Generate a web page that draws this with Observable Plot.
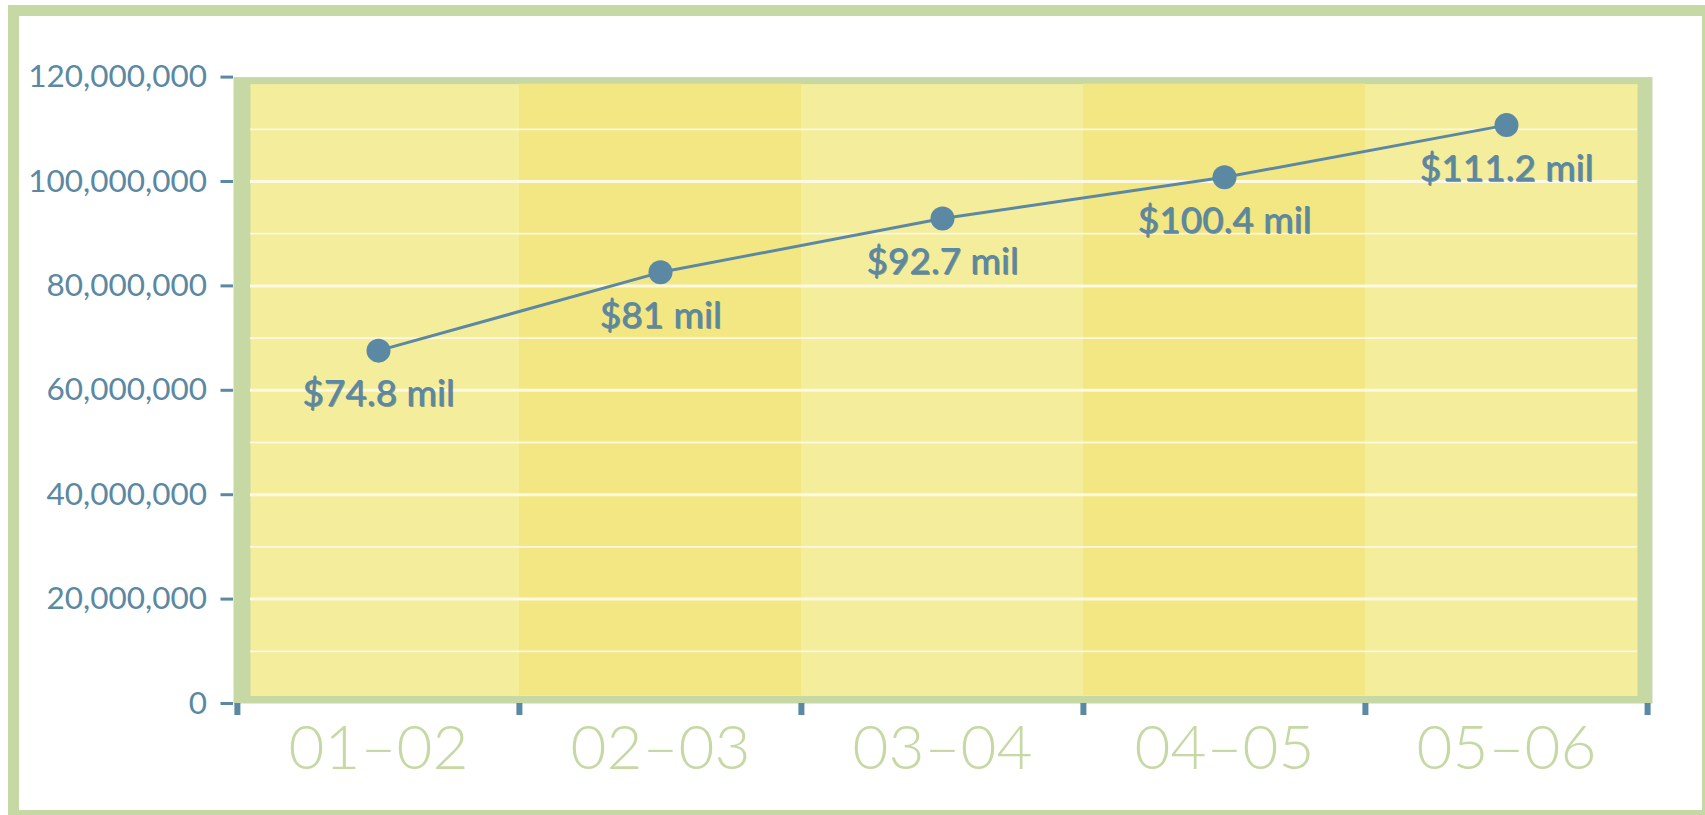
<!DOCTYPE html>
<html>
<head>
<meta charset="utf-8">
<script src="https://cdn.jsdelivr.net/npm/d3@7"></script>
<script src="https://cdn.jsdelivr.net/npm/@observablehq/plot@0.6"></script>
<style>
  html, body { margin: 0; padding: 0; background: #ffffff; overflow: hidden; }
  #wrap { position: relative; width: 1705px; height: 815px; }
  #outer { position: absolute; left: 8px; top: 5px; width: 1705px; height: 816px;
           box-sizing: border-box; border: 11px solid #c6d9a5; pointer-events: none; }
  svg { display: block; }
</style>
</head>
<body>
<div id="wrap"><div id="chart"></div><div id="outer"></div></div>
<script>
// ---- data ----
const periods = ["01–02", "02–03", "03–04", "04–05", "05–06"];
const values = [67.6e6, 82.6e6, 92.9e6, 100.8e6, 110.8e6];
const labels = ["$74.8 mil", "$81 mil", "$92.7 mil", "$100.4 mil", "$111.2 mil"];
const shading = ["light", "dark", "light", "dark", "light"];
const yTicks = [0, 20e6, 40e6, 60e6, 80e6, 100e6, 120e6];
const majorGrid = [20e6, 40e6, 60e6, 80e6, 100e6];
const minorGrid = [10e6, 30e6, 50e6, 70e6, 90e6, 110e6];

const rows = periods.map((p, i) => ({period: p, value: values[i], label: labels[i], shade: shading[i]}));

// ---- style ----
const blue = "#5b88a3";
const green = "#c6d9a5";
const yellowLight = "#f4ed9c";
const yellowDark = "#f3e784";
const gridColor = "#fdf9e2";

const W = 1705, H = 815;
const mL = 236.5, mR = 57.5, mT = 76.6, mB = 112;
const halfBand = (W - mL - mR) / periods.length / 2;

const chart = Plot.plot({
  width: W,
  height: H,
  marginLeft: mL,
  marginRight: mR,
  marginTop: mT,
  marginBottom: mB,
  style: {fontFamily: "Lato, 'Noto Sans', sans-serif", background: "transparent", overflow: "visible"},
  x: {type: "band", domain: periods, padding: 0, axis: null, label: null},
  y: {domain: [0, 120e6], axis: null, label: null},
  marks: [
    // plot-area frame and panel
    Plot.frame({fill: green, stroke: null, insetLeft: -3.5, insetRight: -4.5}),
    Plot.frame({fill: yellowLight, stroke: null, insetLeft: 13.5, insetRight: 10.5, insetTop: 7, insetBottom: 7.5}),
    Plot.barY(rows.filter(d => d.shade === "dark"), {
      x: "period", y1: 0, y2: 120e6, fill: yellowDark, insetTop: 7, insetBottom: 7.5
    }),
    // gridlines
    Plot.ruleY(minorGrid, {stroke: gridColor, strokeWidth: 1.8, strokeOpacity: 0.95, insetLeft: 13.5, insetRight: 10.5}),
    Plot.ruleY(majorGrid, {stroke: gridColor, strokeWidth: 3, insetLeft: 13.5, insetRight: 10.5}),
    // y axis
    Plot.axisY({
      ticks: yTicks, tickFormat: d3.format(","), tickSize: 12.5, tickPadding: 14, dx: -3.5,
      fontSize: 31.5, color: blue, strokeWidth: 3, label: null
    }),
    // x axis: boundary ticks + labels
    Plot.axisX({tickSize: 12, dx: -halfBand, text: null, stroke: blue, strokeWidth: 6, strokeOpacity: 1, label: null}),
    Plot.axisX({ticks: [periods[periods.length - 1]], tickSize: 12, dx: halfBand, text: null, stroke: blue, strokeWidth: 6, strokeOpacity: 1, label: null}),
    Plot.axisX({tickSize: 0, tickPadding: 21, fontSize: 62, fontWeight: 300, fill: green, label: null}),
    // series
    Plot.line(rows, {x: "period", y: "value", stroke: blue, strokeWidth: 3}),
    Plot.dot(rows, {x: "period", y: "value", r: 12, fill: blue, stroke: null}),
    Plot.text(rows, {x: "period", y: "value", text: "label", dx: 1, dy: 56.5, lineAnchor: "bottom",
      fill: "#3b5a6c", fillOpacity: 0.6, fontSize: 37, fontWeight: 500}),
    Plot.text(rows, {x: "period", y: "value", text: "label", dy: 55.5, lineAnchor: "bottom",
      fill: blue, fontSize: 37, fontWeight: 500})
  ]
});
document.getElementById("chart").appendChild(chart);
</script>
</body>
</html>
